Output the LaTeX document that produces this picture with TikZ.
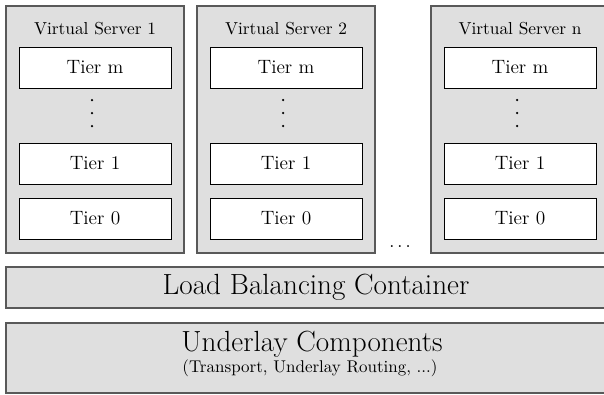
\documentclass[tikz,border=0pt]{standalone}
\begin{document}
\begin{tikzpicture}
  [x=0.6pt,y=-0.6pt,
  c/.style={midway},
  title/.style={font=\fontsize{10.4}{12}\selectfont},
  server/.style={fill=gray!25,draw=black!65,line width=0.8pt},
  tier/.style={fill=white,draw=black,line width=0.6pt,font=\fontsize{11.6}{14}\selectfont},
  layer/.style={fill=gray!25,draw=black!65,line width=0.8pt},
  big/.style={font=\fontsize{17.5}{21}\selectfont},
  dot/.style={fill=black,circle,inner sep=0pt,minimum size=1.5pt}]

  \useasboundingbox (0,0) rectangle (604,394);

  % virtual servers
  \draw[server] (6,6) rectangle ++(178,247);
  \node[title] (vs1) at (95,29) {Virtual Server 1};
  \draw[tier] (19,47) rectangle ++(152,41) node[c] (vs1m) {Tier m};
  \node[dot] (vs1d1) at (92,100) {};
  \node[dot] (vs1d2) at (92,113) {};
  \node[dot] (vs1d3) at (92,126) {};
  \draw[tier] (19,143) rectangle ++(152,41) node[c] (vs1t1) {Tier 1};
  \draw[tier] (19,198) rectangle ++(152,41) node[c] (vs1t0) {Tier 0};

  \draw[server] (197,6) rectangle ++(178,247);
  \node[title] (vs2) at (286,29) {Virtual Server 2};
  \draw[tier] (210,47) rectangle ++(152,41) node[c] (vs2m) {Tier m};
  \node[dot] (vs2d1) at (283,100) {};
  \node[dot] (vs2d2) at (283,113) {};
  \node[dot] (vs2d3) at (283,126) {};
  \draw[tier] (210,143) rectangle ++(152,41) node[c] (vs2t1) {Tier 1};
  \draw[tier] (210,198) rectangle ++(152,41) node[c] (vs2t0) {Tier 0};

  \node[font=\fontsize{10.5}{12}\selectfont] (more) at (400,247) {$\ldots$};

  \draw[server] (431,6) rectangle ++(178,247);
  \node[title] (vsn) at (520,29) {Virtual Server n};
  \draw[tier] (444,47) rectangle ++(152,41) node[c] (vsnm) {Tier m};
  \node[dot] (vsnd1) at (517,100) {};
  \node[dot] (vsnd2) at (517,113) {};
  \node[dot] (vsnd3) at (517,126) {};
  \draw[tier] (444,143) rectangle ++(152,41) node[c] (vsnt1) {Tier 1};
  \draw[tier] (444,198) rectangle ++(152,41) node[c] (vsnt0) {Tier 0};

  % load balancing and underlay
  \draw[layer] (6,267) rectangle ++(620,41) node[c,big] (lb) {Load Balancing Container};

  \draw[layer] (6,323) rectangle ++(620,70);
  \node[big] (ul) at (312,344) {Underlay Components};
  \node[font=\fontsize{10.2}{12}\selectfont] (ulsub) at (310,368) {(Transport, Underlay Routing, ...)};

\end{tikzpicture}
\end{document}
